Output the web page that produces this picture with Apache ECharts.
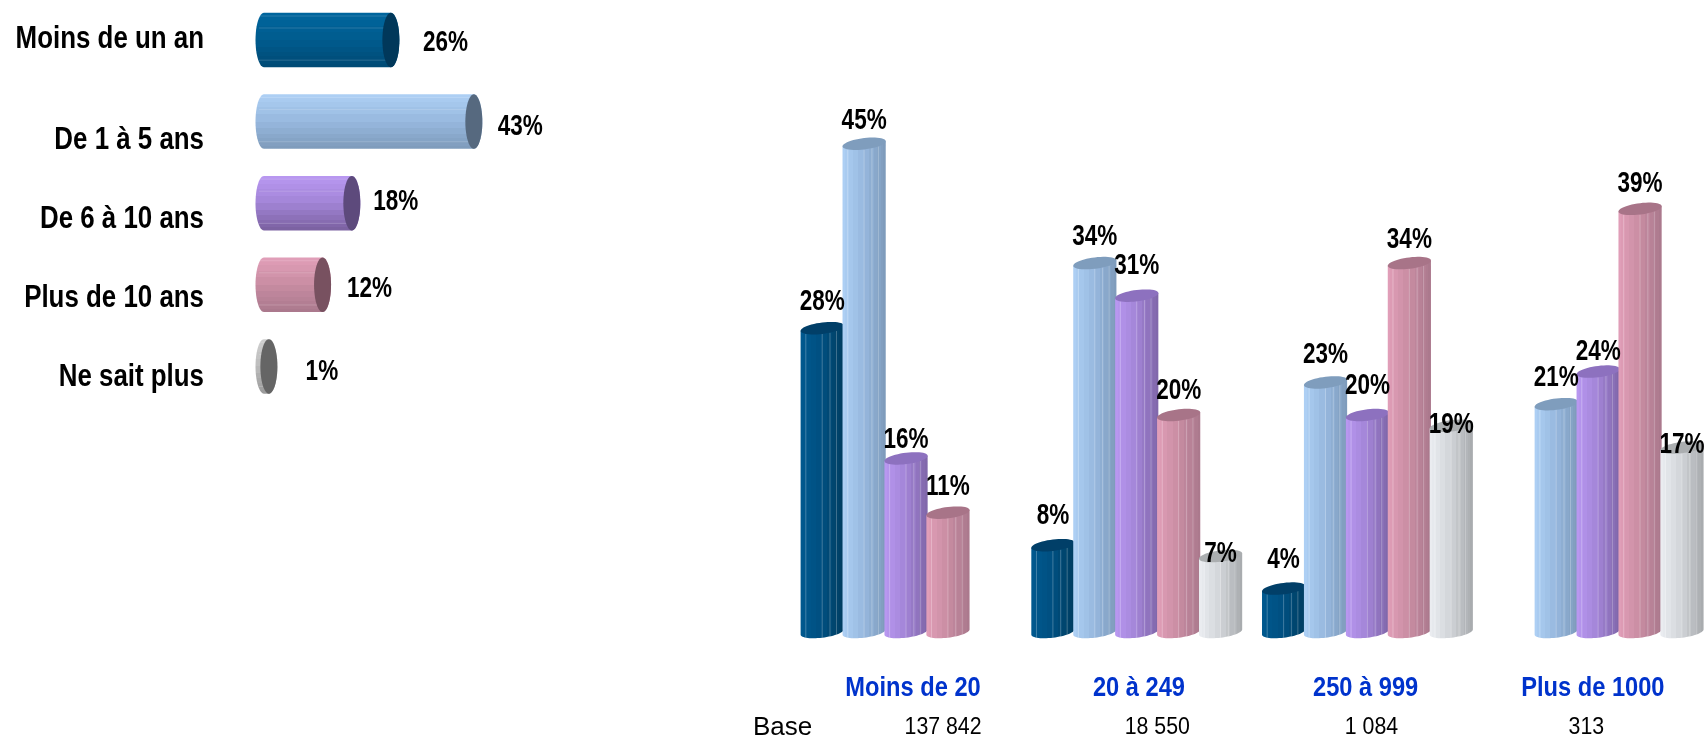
<!DOCTYPE html>
<html><head><meta charset="utf-8">
<script src="https://cdn.jsdelivr.net/npm/echarts@6/dist/echarts.min.js"></script>
<style>html,body{margin:0;padding:0;background:#fff}#c{width:1706px;height:738px}</style>
</head><body><div id="c"></div>
<script>
const seniorityLabels = ['Moins de un an','De 1 à 5 ans','De 6 à 10 ans','Plus de 10 ans','Ne sait plus'];
const seniorityValues = [26,43,18,12,1];
const sizeLabels = ['Moins de 20','20 à 249','250 à 999','Plus de 1000'];
const baseLabels = ['137 842','18 550','1 084','313'];
const sizeMoinsUnAn = [28,8,4,null];
const sizeUnACinq = [45,34,23,21];
const sizeSixADix = [16,31,20,24];
const sizePlusDix = [11,20,34,39];
const sizeNeSaitPlus = [null,7,19,17];

// label nudges (layout only)
const catLabelShift = [-0.3,18.7,16.7,13.7,11.2];
const valueLabelDx = [54.6,46.5,44,47,53];
const valueLabelDy = [3,5,-1.5,4,5.5];
const sizeLabelShift = [7,2.2,-1.8,-5.3];
const baseLabelShift = [37,20.5,4,-11.8];
const lifts = [[26.5,29,28.5,0],[23.5,26.5,27.5,26],[18.5,29.5,29.5,19.5],[25.5,24,23.5,25.5],[0,2.5,1.5,3]];

const palette = [
 {hi:'#00598f', mid:'#004f80', lo:'#003d60', cap:'#013f68'},
 {hi:'#aed0f5', mid:'#97b8de', lo:'#7d9aba', cap:'#7f9dbd'},
 {hi:'#b998f2', mid:'#a284d6', lo:'#7f66a8', cap:'#8d71bf'},
 {hi:'#e29fb9', mid:'#c88ca2', lo:'#a9788c', cap:'#a87488'},
 {hi:'#eceef2', mid:'#d0d3d7', lo:'#a6a9ac', cap:'#abaeb0'}
];
const hPalette = [
 {hi:'#00669e', mid:'#005b8e', lo:'#004a74', cap:'#01385a'},
 {hi:'#aed0f5', mid:'#97b8de', lo:'#7d9aba', cap:'#56697f'},
 {hi:'#b998f2', mid:'#a284d6', lo:'#7a609f', cap:'#5d4a7c'},
 {hi:'#e29fb9', mid:'#c88ca2', lo:'#a9788c', cap:'#785160'},
 {hi:'#cfcfcf', mid:'#bcbcbc', lo:'#9a9a9a', cap:'#656565'}
];
const facetEdges = [0,.06,.14,.24,.36,.5,.62,.72,.8,.88,.94,1];
const SANS = '"Liberation Sans",Arial,sans-serif';
const VALUE_FONT = 'bold 30px '+SANS, VALUE_SCALE = 0.75;
const CAT_FONT = 'bold 31px '+SANS, CAT_SCALE = 0.835;
const SIZE_FONT = 'bold 28.5px '+SANS, SIZE_SCALE = 0.83;
const BASE_FONT = '24.5px '+SANS, BASE_SCALE = 0.87;

function hex(c){return [1,3,5].map(i=>parseInt(c.substr(i,2),16));}
function mix(a,b,t){const A=hex(a),B=hex(b);return 'rgb('+A.map((v,i)=>Math.round(v+(B[i]-v)*t)).join(',')+')';}
function facetFill(p,horizontal){
  const stops=[];
  for(let i=0;i<facetEdges.length-1;i++){
    const t=(facetEdges[i]+facetEdges[i+1])/2;
    const col=t<.5?mix(p.hi,p.mid,t*2):mix(p.mid,p.lo,(t-.5)*2);
    stops.push({offset:facetEdges[i],color:col},{offset:facetEdges[i+1],color:col});
  }
  return new echarts.graphic.LinearGradient(0,0,horizontal?0:1,horizontal?1:0,stops);
}
function arc(cx,cy,rx,ry,shear,from,to,n){
  const pts=[];
  for(let i=0;i<=n;i++){
    const a=from+(to-from)*i/n;
    const dx=rx*Math.cos(a);
    pts.push([cx+dx,cy+ry*Math.sin(a)+shear*dx]);
  }
  return pts;
}
function label(x,y,text,font,fill,scale,align){
  return {type:'text',x:x,y:y,scaleX:scale,z2:10,
    style:{text:text,font:font,fill:fill,textAlign:align||'center',textVerticalAlign:'middle'}};
}
function renderHBar(params,api){
  const i=params.dataIndex, v=api.value(0), pos0=api.coord([0,i]), cy=pos0[1], x0=pos0[0], x1=api.coord([v,i])[0];
  const h=api.size([0,1])[1]*0.668, ry=h/2, rx=8.5, p=hPalette[i];
  const pts=[...arc(x0,cy,rx,ry,0,Math.PI*1.5,Math.PI*0.5,24),...arc(x1,cy,rx,ry,0,Math.PI*0.5,-Math.PI*0.5,24)];
  const kids=[{type:'polygon',shape:{points:pts},style:{fill:facetFill(p,true)}}];
  [.06,.28,.87].forEach(f=>{
    const y=cy-ry+h*f;
    kids.push({type:'line',shape:{x1:x0-rx*.6,y1:y,x2:x1-rx*.3,y2:y},style:{stroke:'#fff',opacity:.16,lineWidth:1}});
  });
  kids.push({type:'polygon',shape:{points:arc(x1,cy,rx,ry,0,0,Math.PI*2,48)},style:{fill:p.cap}});
  kids.push(label(x1+valueLabelDx[i],cy+valueLabelDy[i],v+'%',VALUE_FONT,'#000',VALUE_SCALE));
  kids.push(label(x0-60,cy+catLabelShift[i],seniorityLabels[i],CAT_FONT,'#000',CAT_SCALE,'right'));
  return {type:'group',children:kids};
}
function renderColumn(si){
  return function(params,api){
    const c=api.value(0), v=api.value(1), k=params.dataIndex;
    if(v==null||isNaN(v)) return null;
    const band=api.size([1,0])[0], step=band*0.1817, cx=api.coord([c,0])[0]+(si-2)*step;
    const y0=api.coord([c,0])[1], y1=api.coord([c,v])[1];
    const rx=21.6, ry=5.7, sh=-0.12, p=palette[si];
    const pts=[[cx-rx,y1-sh*rx],[cx+rx,y1+sh*rx],...arc(cx,y0,rx,ry,sh,0,Math.PI,30)];
    const kids=[{type:'polygon',shape:{points:pts},style:{fill:facetFill(p,false)}}];
    [.12,.5,.68,.83].forEach(f=>{
      const x=cx-rx+2*rx*f, dx=x-cx, e=ry*Math.sqrt(1-dx*dx/rx/rx);
      kids.push({type:'line',shape:{x1:x,y1:y1+sh*dx+e,x2:x,y2:y0+sh*dx+e},style:{stroke:'#fff',opacity:.25,lineWidth:1}});
    });
    kids.push({type:'polygon',shape:{points:arc(cx,y1,rx,ry,sh,0,Math.PI*2,48)},style:{fill:p.cap}});
    kids.push(label(cx,y1-lifts[si][k],v+'%',VALUE_FONT,'#000',VALUE_SCALE));
    return {type:'group',children:kids};
  };
}
function renderAxisText(params,api){
  const i=params.dataIndex, pos=api.coord([i,0]);
  return {type:'group',children:[
    label(pos[0]+sizeLabelShift[i],pos[1]+56,sizeLabels[i],SIZE_FONT,'#0033cc',SIZE_SCALE),
    label(pos[0]+baseLabelShift[i],pos[1]+95.5,baseLabels[i],BASE_FONT,'#000',BASE_SCALE)
  ]};
}
const sizeSeries=[sizeMoinsUnAn,sizeUnACinq,sizeSixADix,sizePlusDix,sizeNeSaitPlus];

const option={
  animation:false,
  backgroundColor:'#fff',
  grid:[
    {left:264,top:-0.8,width:244,height:408,outerBoundsMode:'none'},
    {left:790.7,top:89.5,width:922.8,height:542.5,outerBoundsMode:'none'}
  ],
  xAxis:[
    {gridIndex:0,type:'value',min:0,max:50,show:false},
    {gridIndex:1,type:'category',data:sizeLabels,show:false}
  ],
  yAxis:[
    {gridIndex:0,type:'category',inverse:true,data:seniorityLabels,show:false},
    {gridIndex:1,type:'value',min:0,max:50,show:false}
  ],
  graphic:[{type:'text',left:753,top:715,style:{text:'Base',font:'26px '+SANS,fill:'#000'}}],
  series:[
    {type:'custom',xAxisIndex:0,yAxisIndex:0,clip:false,encode:{x:0,y:1},
     data:seniorityValues.map((v,i)=>[v,i]),renderItem:renderHBar},
    ...sizeSeries.map((vals,si)=>({type:'custom',name:seniorityLabels[si],xAxisIndex:1,yAxisIndex:1,clip:false,encode:{x:0,y:1},
      data:vals.map((v,i)=>[i,v]),renderItem:renderColumn(si)})),
    {type:'custom',xAxisIndex:1,yAxisIndex:1,clip:false,encode:{x:0,y:1},
     data:sizeLabels.map((v,i)=>[i,0]),renderItem:renderAxisText}
  ]
};
echarts.init(document.getElementById('c'),null,{renderer:'canvas'}).setOption(option);
</script></body></html>
